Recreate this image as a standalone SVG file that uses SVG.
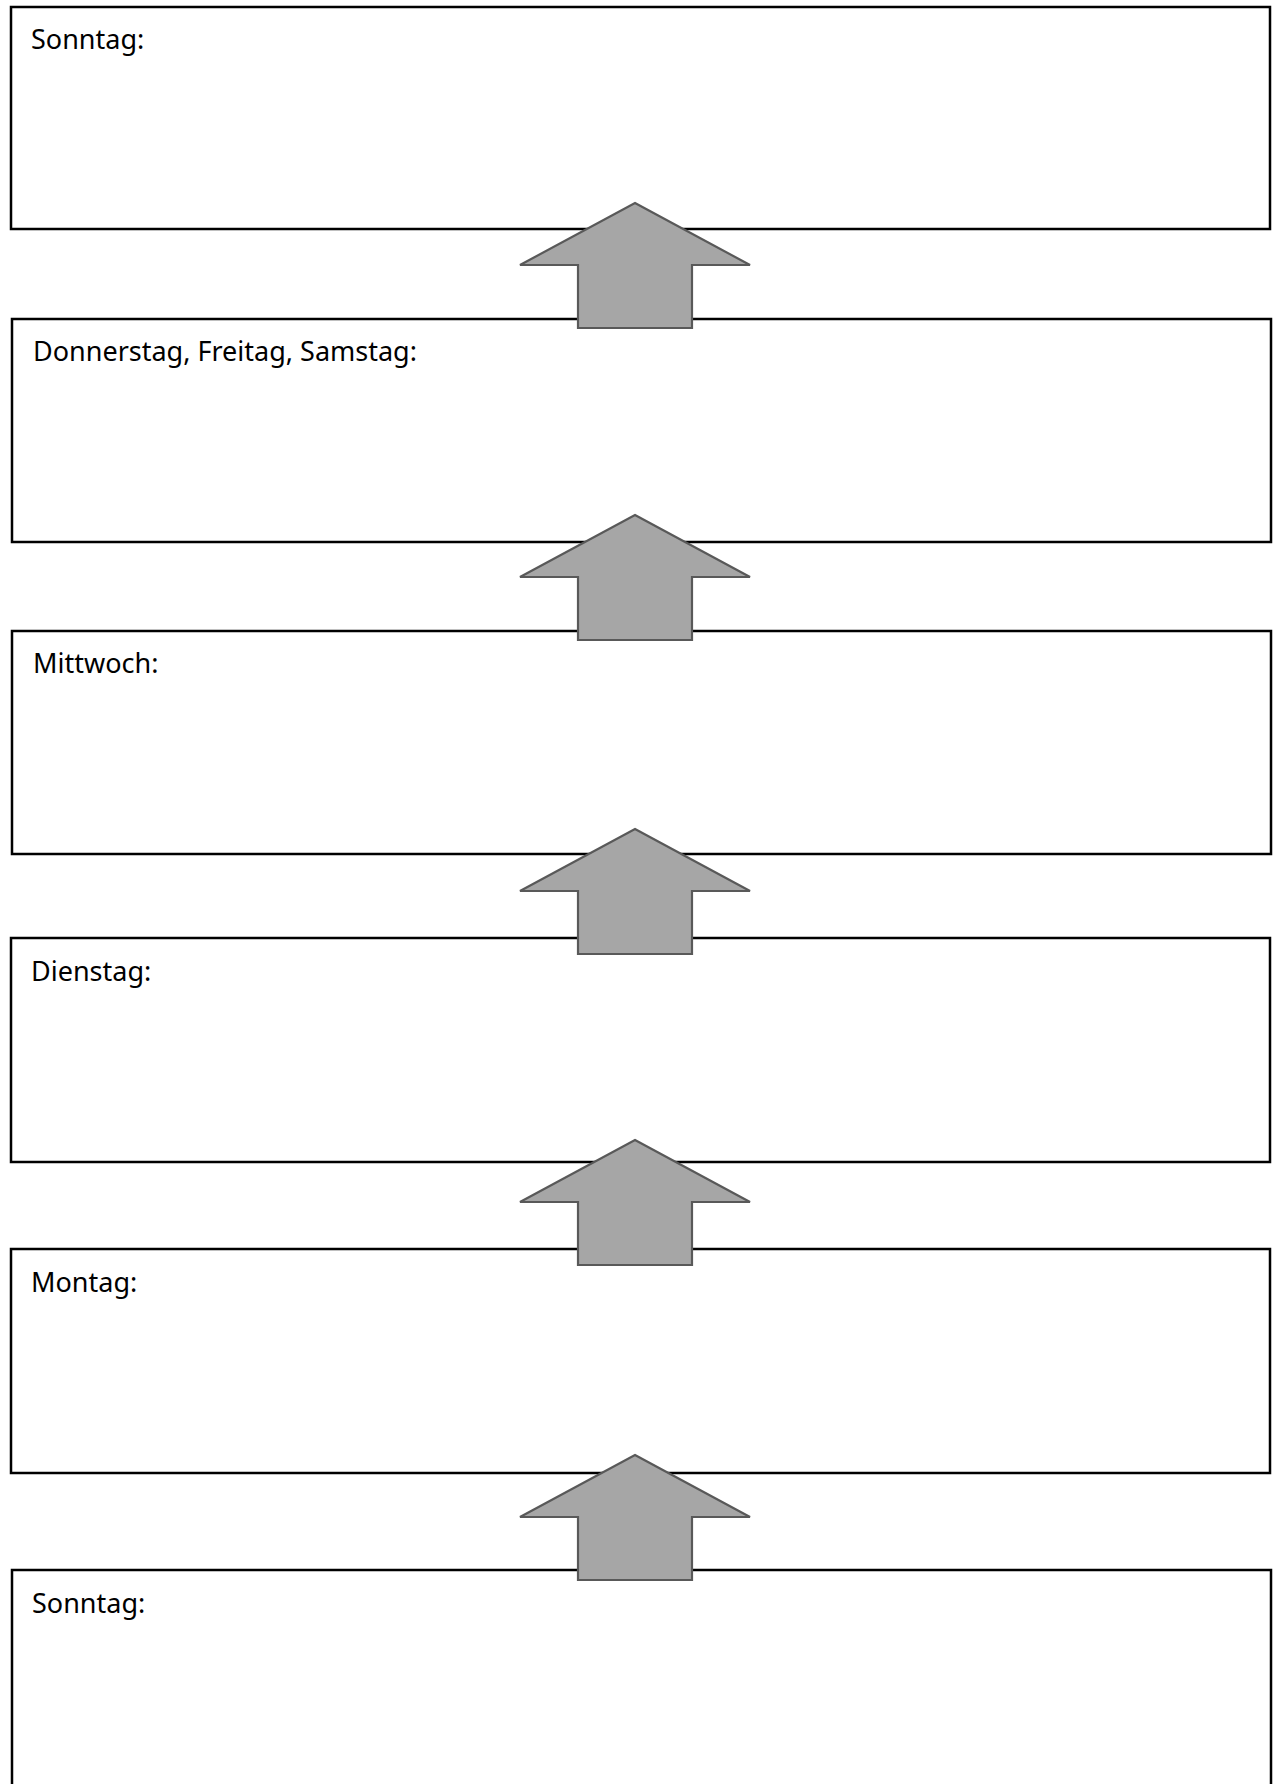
<svg xmlns="http://www.w3.org/2000/svg" width="1274" height="1784" viewBox="0 0 1274 1784">
<style>
.box{fill:#ffffff;stroke:#000000;stroke-width:2.5}
.lbl{font-family:"Noto Sans","Open Sans","Liberation Sans",sans-serif;font-size:27px;fill:#000000}
.arr{fill:#a6a6a6;stroke:#595959;stroke-width:2.2;stroke-linejoin:miter}
</style>
<defs>
<path id="uparrow" d="M0,0 L115,62 L57,62 L57,125 L-57,125 L-57,62 L-115,62 Z"/>
</defs>
<rect width="1274" height="1784" fill="#ffffff"/>
<g id="node-sonntag-top">
<rect class="box" x="11" y="7" width="1259" height="222"/>
<text class="lbl" x="31" y="49">Sonntag:</text>
</g>
<g id="node-do-fr-sa">
<rect class="box" x="12" y="319" width="1259" height="223"/>
<text class="lbl" x="33" y="361">Donnerstag, Freitag, Samstag:</text>
</g>
<g id="node-mittwoch">
<rect class="box" x="12" y="631" width="1259" height="223"/>
<text class="lbl" x="33" y="673">Mittwoch:</text>
</g>
<g id="node-dienstag">
<rect class="box" x="11" y="938" width="1259" height="224"/>
<text class="lbl" x="31" y="981">Dienstag:</text>
</g>
<g id="node-montag">
<rect class="box" x="11" y="1249" width="1259" height="224"/>
<text class="lbl" x="31" y="1292">Montag:</text>
</g>
<g id="node-sonntag-bottom">
<rect class="box" x="12" y="1570" width="1259" height="240"/>
<text class="lbl" x="32" y="1613">Sonntag:</text>
</g>
<g id="connectors">
<use href="#uparrow" class="arr" x="635" y="203"/>
<use href="#uparrow" class="arr" x="635" y="515"/>
<use href="#uparrow" class="arr" x="635" y="829"/>
<use href="#uparrow" class="arr" x="635" y="1140"/>
<use href="#uparrow" class="arr" x="635" y="1455"/>
</g>
</svg>
